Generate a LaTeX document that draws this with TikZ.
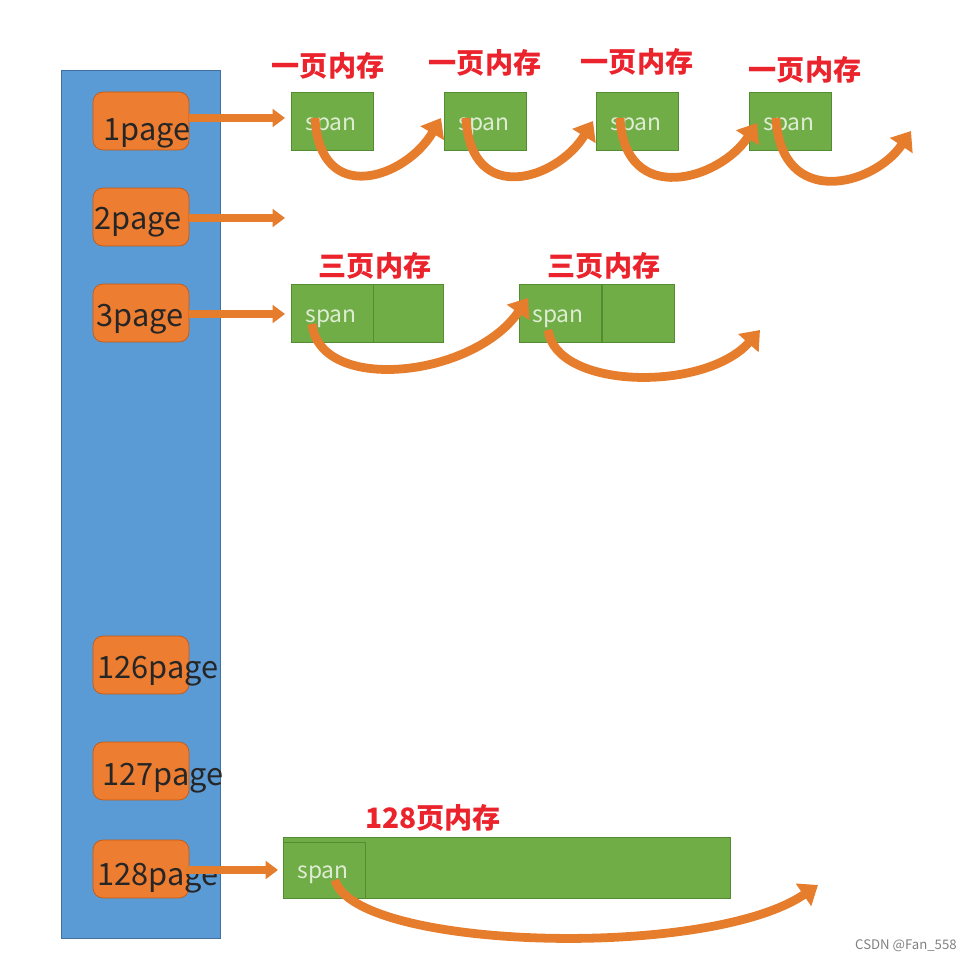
\documentclass[tikz,border=0pt]{standalone}
\usepackage{fontspec}
\setmainfont{Noto Sans CJK SC}
\usetikzlibrary{arrows.meta,positioning}

\definecolor{poolblue}{RGB}{91,155,213}
\definecolor{poolblueline}{RGB}{65,113,156}
\definecolor{pgorange}{RGB}{237,125,49}
\definecolor{pgorangeline}{RGB}{197,90,17}
\definecolor{spangreen}{RGB}{112,173,71}
\definecolor{spangreenline}{RGB}{84,140,50}
\definecolor{spantext}{RGB}{222,236,212}
\definecolor{arrorange}{RGB}{230,125,45}
\definecolor{memred}{RGB}{235,35,45}

\begin{document}
\begin{tikzpicture}[x=0.02cm,y=-0.02cm,
  pagebox/.style={draw=pgorangeline,fill=pgorange,rounded corners=0.2cm,minimum width=1.92cm,minimum height=1.16cm,inner sep=0pt},
  pagetxt/.style={anchor=base west,inner sep=0pt,text=black!85,font=\fontsize{17.5}{20}\selectfont},
  spanbox/.style={draw=spangreenline,fill=spangreen,minimum width=1.64cm,minimum height=1.16cm,inner sep=0pt},
  cellbox/.style={draw=spangreenline,fill=spangreen,minimum height=1.16cm,inner sep=0pt},
  spantxt/.style={inner sep=0pt,text=spantext,font=\fontsize{13}{16}\selectfont},
  memlbl/.style={text=memred,font=\bfseries\fontsize{16}{18}\selectfont,inner sep=0pt},
  hookarr/.style={draw=arrorange,line width=4pt,-{Triangle[width=10pt,length=7pt]}},
  nextarr/.style={draw=arrorange,line width=5pt,-{Triangle[width=15pt,length=10pt]}}]

\useasboundingbox (0,0) rectangle (971,962);

% central free list
\node[draw=poolblueline,fill=poolblue,minimum width=3.18cm,minimum height=17.36cm,inner sep=0pt] (pool) at (140.5,504) {};

\node[pagebox] (pg1) at (141,121) {};
\node[pagebox] (pg2) at (141,217) {};
\node[pagebox] (pg3) at (141,313) {};
\node[pagebox] (pg126) at (141,665) {};
\node[pagebox] (pg127) at (141,771) {};
\node[pagebox] (pg128) at (141,869) {};

\node[pagetxt] (l1) at (103,141) {1page};
\node[pagetxt] (l2) at (94,230) {2page};
\node[pagetxt] (l3) at (96,327) {3page};
\node[pagetxt] (l126) at (97,679) {126page};
\node[pagetxt] (l127) at (102,786) {127page};
\node[pagetxt] (l128) at (97,886) {128page};

% one-page spans
\node[spanbox] (s11) at (332,121) {};
\node[spanbox] (s12) at (485,121) {};
\node[spanbox] (s13) at (637,121) {};
\node[spanbox] (s14) at (790,121) {};
\node[spantxt] at (331,127) {span};
\node[spantxt] at (484,127) {span};
\node[spantxt] at (636,127) {span};
\node[spantxt] at (789,127) {span};
\node[memlbl] (m11) at (328,66) {一页内存};
\node[memlbl] (m12) at (485,63) {一页内存};
\node[memlbl] (m13) at (637,62) {一页内存};
\node[memlbl] (m14) at (805,70) {一页内存};

% three-page spans
\node[spanbox] (s31) at (332,313) {};
\node[cellbox,minimum width=1.4cm,right=0pt of s31] (x31) {};
\node[spanbox] (s32) at (560.5,313) {};
\node[cellbox,minimum width=1.44cm,right=0pt of s32] (x32) {};
\node[spantxt] at (331,319) {span};
\node[spantxt] at (558,319) {span};
\node[memlbl] (m31) at (375,266) {三页内存};
\node[memlbl] (m32) at (604,266) {三页内存};

% 128-page span
\node[cellbox,minimum width=8.94cm,minimum height=1.22cm] (big) at (506.5,867.5) {};
\node[spanbox,minimum height=1.12cm] (s128) at (324,870) {};
\node[spantxt] at (323,875) {span};
\node[memlbl] (m128) at (433,818) {128页内存};

\node[text=gray,font=\fontsize{7.5}{9}\selectfont,anchor=east,inner sep=0pt] (wm) at (957,946) {CSDN @Fan\_558};

% hooks from the list
\coordinate (e1) at (285,118);
\coordinate (e2) at (285,218);
\coordinate (e3) at (285,314);
\coordinate (e128) at (278,870);
\draw[hookarr] (pg1.east |- e1) -- (e1);
\draw[hookarr] (pg2.east |- e2) -- (e2);
\draw[hookarr] (pg3.east |- e3) -- (e3);
\draw[hookarr] (pg128.east |- e128) ++(-4,0) -- (e128);

% links between spans
\coordinate (c11) at (315,118); \coordinate (t11) at (441,118);
\coordinate (c12) at (466,118); \coordinate (t12) at (593,121);
\coordinate (c13) at (620,118); \coordinate (t13) at (757,123);
\coordinate (c14) at (776,118); \coordinate (t14) at (911,131);
\coordinate (c31) at (312,324); \coordinate (t31) at (528,298);
\coordinate (c32) at (548,330); \coordinate (t32) at (760,330);
\coordinate (c128) at (335,880); \coordinate (t128) at (818,885);

\draw[nextarr] (c11) .. controls +(5,90) and +(-35,60) .. (t11);
\draw[nextarr] (c12) .. controls +(5,90) and +(-35,58) .. (t12);
\draw[nextarr] (c13) .. controls +(5,90) and +(-37,57) .. (t13);
\draw[nextarr] (c14) .. controls +(5,92) and +(-37,55) .. (t14);
\draw[nextarr] (c31) .. controls +(8,70) and +(-55,80) .. (t31);
\draw[nextarr] (c32) .. controls +(8,60) and +(-55,62) .. (t32);
\draw[nextarr] (c128) .. controls +(20,70) and +(-110,75) .. (t128);

\end{tikzpicture}
\end{document}
